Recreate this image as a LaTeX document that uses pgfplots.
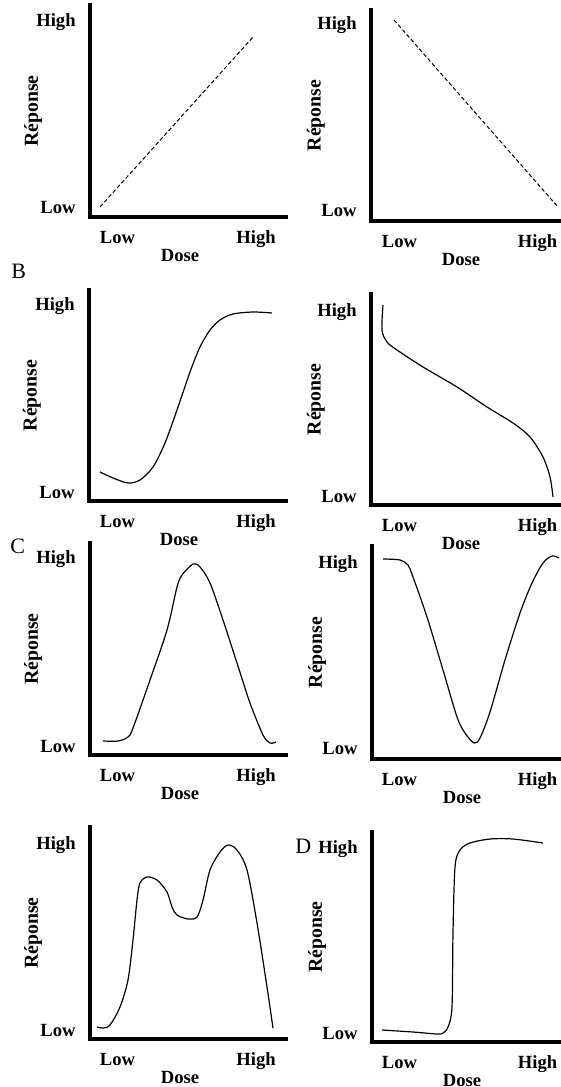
\documentclass[border=0pt]{standalone}
\usepackage{pgfplots}
\pgfplotsset{compat=1.18}
\usepackage{fontspec}
\setmainfont{Liberation Serif}
\pgfplotsset{
  panel/.style={
    anchor=south west, scale only axis, clip=false,
    axis lines*=left,
    axis line style={line width=1.6bp, line cap=rect},
    major tick length=0pt,
    xtick style={draw=none}, ytick style={draw=none},
    tick label style={font=\fontsize{9.3bp}{11bp}\selectfont\bfseries, inner sep=0pt},
    xticklabel style={anchor=base, yshift=-13bp},
    yticklabel style={anchor=base east, xshift=-7bp},
    xticklabels={Low,High}, yticklabels={Low,High},
    xlabel={Dose}, ylabel={Réponse},
    xlabel style={font=\fontsize{9.3bp}{11bp}\selectfont\bfseries, inner sep=0pt,
      at={(axis description cs:0,0)}, anchor=base, xshift=45bp, yshift=-22bp},
    ylabel style={font=\fontsize{9.9bp}{11bp}\selectfont\bfseries, inner sep=0pt,
      at={(axis description cs:-0.29,0.5)}, anchor=center},
  },
  leftp/.style={xtick={117.5,256}},
  rightp/.style={xtick={399.5,537.5}},
  curve/.style={black, line width=0.6bp, smooth, no markers},
  dline/.style={black, line width=0.5bp, dash pattern=on 2bp off 1.2bp, no markers},
}
\begin{document}
\begin{tikzpicture}
\useasboundingbox (0,0) rectangle (280.5bp,-543.5bp);
% Row 1 left
\begin{axis}[panel, leftp, at={(45bp,-108.5bp)}, width=98bp, height=106bp,
  xmin=90, xmax=286, ymin=-217, ymax=-5, ytick={-213,-27}]
\addplot[dline] coordinates {(100,-207) (253,-37)};
\end{axis}
% Row 1 right
\begin{axis}[panel, rightp, at={(185.5bp,-110.5bp)}, width=95bp, height=105.5bp,
  xmin=371, xmax=561, ymin=-221, ymax=-10, ytick={-216,-30}]
\addplot[dline] coordinates {(394,-20) (558,-207)};
\end{axis}
% Row 2 left
\begin{axis}[panel, leftp, at={(44.5bp,-250.5bp)}, width=98.5bp, height=105.5bp,
  xmin=89, xmax=286, ymin=-501, ymax=-290, ytick={-498,-310}]
\addplot[curve] coordinates {(100,-472) (113,-478) (128,-483) (140,-480) (153,-467) (165,-443) (177,-410) (190,-372) (200,-347) (210,-330) (220,-320) (233,-314) (253,-312) (272,-313)};
\end{axis}
% Row 2 right
\begin{axis}[panel, rightp, at={(185.5bp,-252.5bp)}, width=95bp, height=105.5bp,
  xmin=371, xmax=561, ymin=-505, ymax=-294, ytick={-502,-316}]
\addplot[curve] coordinates {(383,-305) (382,-330) (387,-342) (397,-350) (423,-367) (457,-387) (487,-407) (513,-423) (530,-437) (543,-457) (550,-477) (553,-497)};
\end{axis}
% Row 3 left
\begin{axis}[panel, leftp, at={(45bp,-377.5bp)}, width=98bp, height=106bp,
  xmin=90, xmax=286, ymin=-755, ymax=-543, ytick={-752,-563}]
\addplot[curve] coordinates {(103,-741) (118,-741) (128,-737) (133,-728) (150,-680) (167,-630) (177,-587) (182,-575) (193,-564) (200,-567) (210,-583) (223,-620) (237,-663) (250,-703) (263,-735) (270,-743) (276,-742)};
\end{axis}
% Row 3 right
\begin{axis}[panel, rightp, at={(186bp,-379.5bp)}, width=94.5bp, height=106.5bp,
  xmin=372, xmax=561, ymin=-759, ymax=-546, ytick={-754,-568}]
\addplot[curve] coordinates {(383,-559) (400,-560) (408,-565) (413,-577) (427,-617) (443,-670) (457,-717) (465,-733) (474,-743) (480,-738) (490,-712) (505,-660) (520,-613) (532,-583) (543,-563) (552,-556) (559,-558)};
\end{axis}
% Row 4 left
\begin{axis}[panel, leftp, at={(45bp,-519.5bp)}, width=98bp, height=106bp,
  xmin=90, xmax=286, ymin=-1039, ymax=-827, ytick={-1036,-849}]
\addplot[curve] coordinates {(97,-1027) (103,-1028) (110,-1025) (120,-1007) (128,-980) (133,-940) (137,-900) (140,-883) (147,-877) (157,-880) (167,-892) (172,-907) (177,-915) (188,-919) (197,-917) (203,-900) (210,-870) (220,-852) (228,-845) (237,-850) (247,-870) (257,-923) (267,-987) (273,-1028)};
\end{axis}
% Row 4 right
\begin{axis}[panel, rightp, at={(186bp,-521bp)}, width=94.5bp, height=105bp,
  xmin=372, xmax=561, ymin=-1042, ymax=-832, ytick={-1039,-853}]
\addplot[curve] coordinates {(382,-1030) (413,-1032) (437,-1034) (443,-1033) (448,-1027) (452,-1007) (453,-933) (455,-867) (460,-850) (470,-843) (490,-839) (513,-839) (543,-843)};
\end{axis}
\node[anchor=base west, inner sep=0pt, font=\fontsize{11bp}{13bp}\selectfont] at (5.5bp,-139bp) {B};
\node[anchor=base west, inner sep=0pt, font=\fontsize{11bp}{13bp}\selectfont] at (5bp,-276.5bp) {C};
\node[anchor=base west, inner sep=0pt, font=\fontsize{11bp}{13bp}\selectfont] at (147.5bp,-426.5bp) {D};
\end{tikzpicture}
\end{document}
